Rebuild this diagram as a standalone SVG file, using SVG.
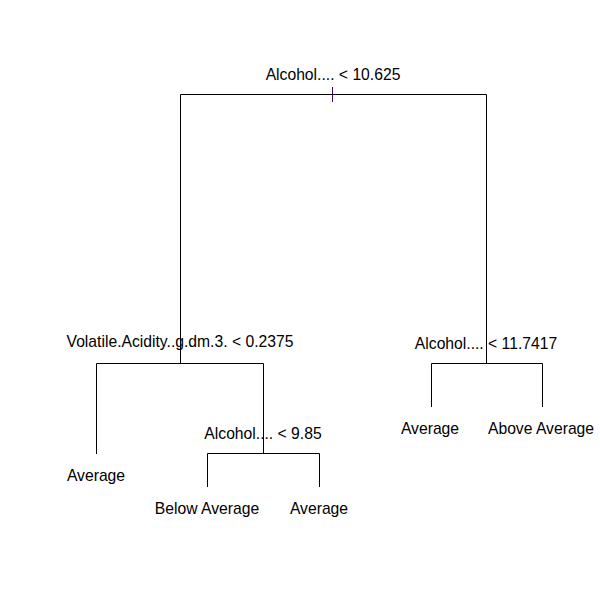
<svg xmlns="http://www.w3.org/2000/svg" width="600" height="600" viewBox="0 0 600 600">
<style>
text{font-family:"Liberation Sans",Arial,sans-serif;font-size:15.7px;fill:#000;text-anchor:middle}
.e{stroke:#000;stroke-width:1;fill:none}
</style>
<rect width="600" height="600" fill="#fff"/>
<g id="connectors">
<path class="e" d="M180.5,363.5V94.5H486.5V363.5"/>
<path class="e" d="M96.5,454V363.5H263.5V453.5"/>
<path class="e" d="M207.5,487V453.5H319.5V487"/>
<path class="e" d="M431.5,407V363.5H542.5V407"/>
<path d="M332.5,87V102" stroke="#400070" stroke-width="1"/>
</g>
<g id="n1"><text x="333" y="80">Alcohol.... &lt; 10.625</text></g>
<g id="n2"><text x="180" y="347">Volatile.Acidity..g.dm.3. &lt; 0.2375</text></g>
<g id="n3"><text x="486" y="349">Alcohol.... &lt; 11.7417</text></g>
<g id="n4"><text x="96" y="481">Average</text></g>
<g id="n5"><text x="263" y="439">Alcohol.... &lt; 9.85</text></g>
<g id="n6"><text x="207" y="514">Below Average</text></g>
<g id="n7"><text x="319" y="514">Average</text></g>
<g id="n8"><text x="430" y="434">Average</text></g>
<g id="n9"><text x="541" y="434">Above Average</text></g>
</svg>
